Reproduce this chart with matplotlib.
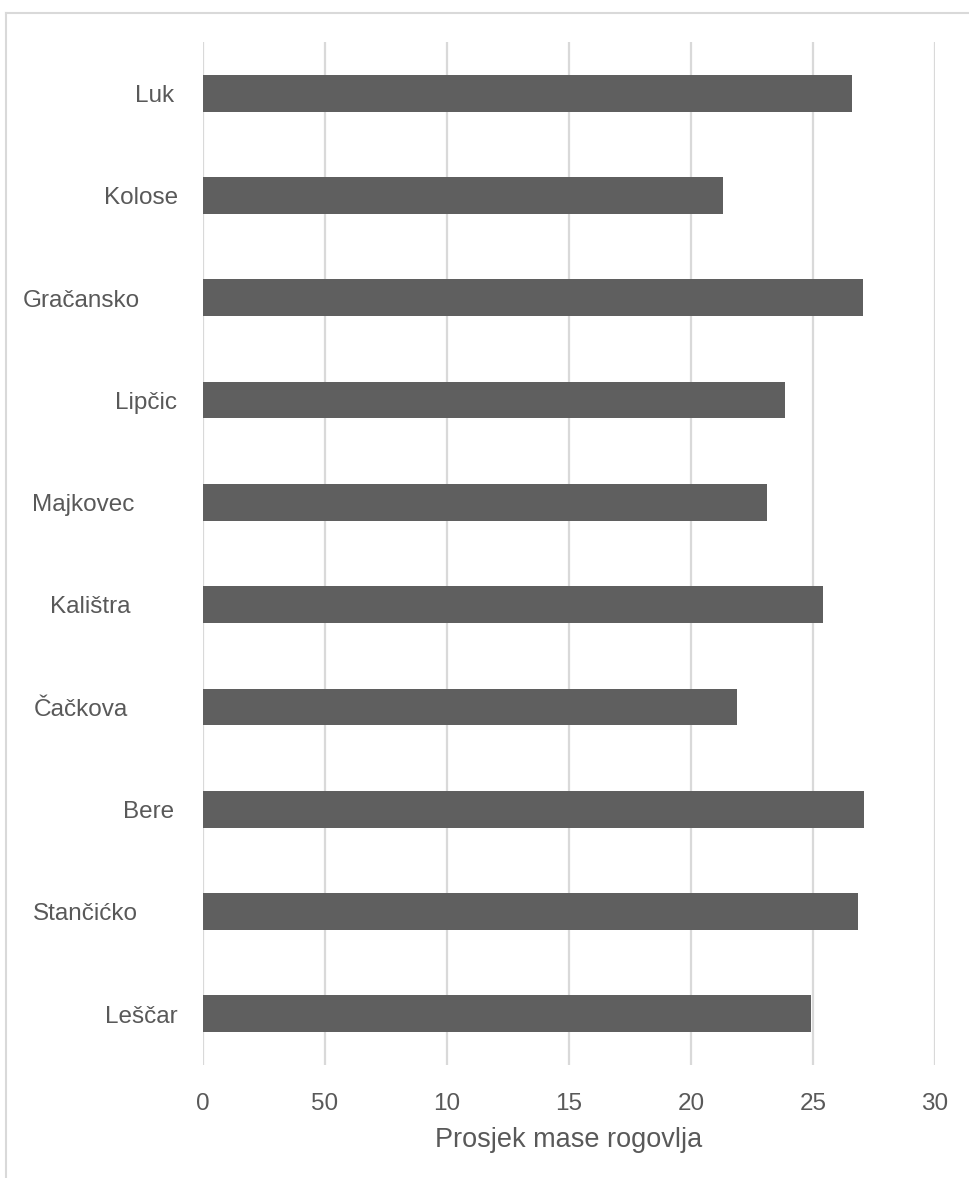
# Prosjek mase rogovlja po lokalitetima - vodoravni stupci
import matplotlib
matplotlib.use('Agg')
import matplotlib.pyplot as plt
from matplotlib.lines import Line2D
from matplotlib.transforms import ScaledTranslation

# podaci (odozgo prema dolje)
lokaliteti = ['Luk', 'Kolose', 'Gračansko', 'Lipčic', 'Majkovec',
              'Kalištra', 'Čačkova', 'Bere', 'Stančićko', 'Leščar']
prosjek = [26.6, 21.3, 27.05, 23.85, 23.1, 25.4, 21.9, 27.1, 26.85, 24.9]
x_ticks = [0, 5, 10, 15, 20, 25, 30]
x_tick_labels = ['0', '50', '10', '15', '20', '25', '30']

# razmak natpisa od osi (px) - u originalu nisu poravnati
label_gap = [29, 25, 63, 26, 69, 72, 75, 29, 65, 25]

plt.rcParams['font.family'] = ['Liberation Sans', 'DejaVu Sans']
text_color = '#595959'
bar_color = '#5f5f5f'
grid_color = '#d9d9d9'

W, H = 969, 1178
fig = plt.figure(figsize=(W / 100, H / 100), dpi=100)
ax = fig.add_axes([203 / W, 1 - 1065 / H, (935 - 203) / W, (1065 - 42) / H])

# okvir oko grafikona (vidljiv samo gore i lijevo)
fig.add_artist(Line2D([6 / W, 1], [1 - 13 / H, 1 - 13 / H], color=grid_color, lw=1.5))
fig.add_artist(Line2D([6 / W, 6 / W], [0, 1 - 13 / H], color=grid_color, lw=1.5))

n = len(lokaliteti)
ypos = list(range(n - 1, -1, -1))
ax.barh(ypos, prosjek, height=0.36, color=bar_color, zorder=3)

ax.set_xlim(0, 30)
ax.set_ylim(-0.5, n - 0.5)
ax.set_xticks(x_ticks)
ax.set_xticklabels(x_tick_labels)
ax.xaxis.grid(True, color=grid_color, linewidth=1.6)
ax.set_axisbelow(True)
for s in ax.spines.values():
    s.set_visible(False)
ax.tick_params(axis='x', length=0, pad=20, labelsize=17.5, labelcolor=text_color)
ax.set_yticks([])

# natpisi kategorija (malo spusteni da budu u sredini stupca)
shift = ScaledTranslation(0, -2 / 72, fig.dpi_scale_trans)
trans = ax.get_yaxis_transform() + shift
ax_w = 935 - 203
for y, name, gap in zip(ypos, lokaliteti, label_gap):
    ax.text(-gap / ax_w, y, name, transform=trans, ha='right', va='center',
            fontsize=17.5, color=text_color)

ax.set_xlabel('Prosjek mase rogovlja', fontsize=19.5, color=text_color, labelpad=9)

fig.savefig('out.png', dpi=100)
